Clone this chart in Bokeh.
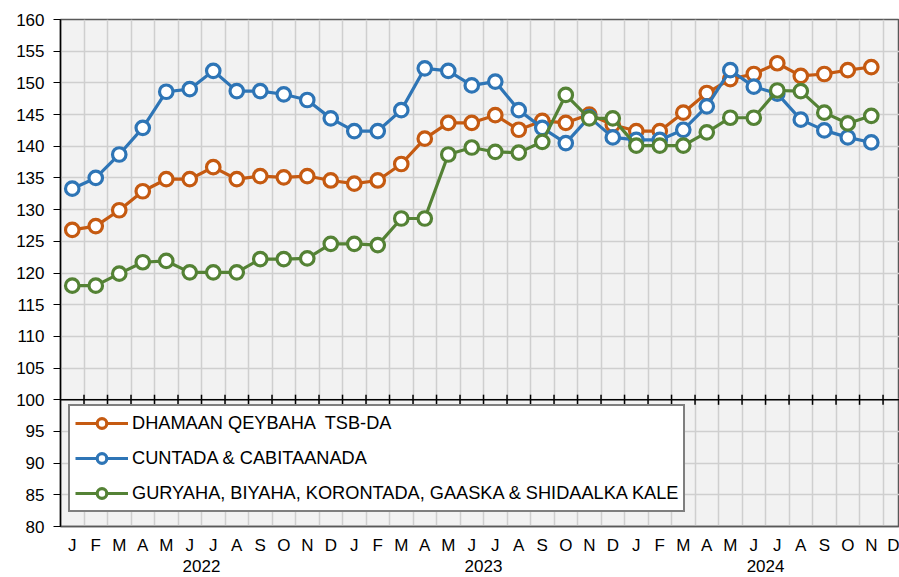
from bokeh.plotting import figure
from bokeh.models import (Range1d, FixedTicker, LinearAxis, Span, Legend, LegendItem,
                          ColumnDataSource, Grid)
from bokeh.embed import file_html
from bokeh.resources import INLINE

months = ["J", "F", "M", "A", "M", "J", "J", "A", "S", "O", "N", "D"] * 3
years = ["2022", "2023", "2024"]

all_items = [126.8, 127.4, 129.9, 132.9, 134.8, 134.8, 136.7, 134.8, 135.3, 135.1,
             135.3, 134.6, 134.1, 134.6, 137.2, 141.2, 143.7, 143.7, 144.9, 142.6,
             144.0, 143.7, 145.0, 143.4, 142.4, 142.4, 145.3, 148.4, 150.6, 151.4,
             153.1, 151.1, 151.4, 152.0, 152.5]
food = [133.3, 135.0, 138.7, 142.9, 148.6, 149.0, 151.9, 148.7, 148.7, 148.2,
        147.3, 144.4, 142.4, 142.4, 145.7, 152.3, 151.9, 149.6, 150.2, 145.7,
        142.9, 140.5, 144.6, 141.4, 141.0, 141.0, 142.6, 146.3, 152.0, 149.4,
        148.3, 144.2, 142.5, 141.4, 140.6]
housing = [118.0, 118.0, 119.9, 121.7, 121.9, 120.1, 120.1, 120.1, 122.2, 122.2,
           122.3, 124.6, 124.6, 124.4, 128.6, 128.6, 138.7, 139.8, 139.1, 139.0,
           140.7, 148.1, 144.4, 144.4, 140.1, 140.1, 140.1, 142.2, 144.5, 144.5,
           148.8, 148.7, 145.3, 143.6, 144.8]

series_names = ["DHAMAAN QEYBAHA  TSB-DA", "CUNTADA & CABITAANADA",
                "GURYAHA, BIYAHA, KORONTADA, GAASKA & SHIDAALKA KALE"]
colors = ["#C55A11", "#2E75B6", "#548235"]

FONT = "Liberation Sans"

p = figure(width=899, height=577, output_backend="svg", toolbar_location=None,
           x_range=Range1d(-0.5, 35.2), y_range=Range1d(80, 160),
           min_border_left=60, min_border_right=0, min_border_top=19,
           min_border_bottom=51, x_axis_type=None)

p.background_fill_color = "#F2F2F2"
p.border_fill_color = "white"
p.outline_line_color = "#595959"
p.outline_line_width = 1.5

# y axis
p.yaxis.ticker = FixedTicker(ticks=list(range(80, 161, 5)))
p.yaxis.major_label_text_font = FONT
p.yaxis.major_label_text_font_size = "17px"
p.yaxis.major_label_text_color = "black"
p.yaxis.axis_line_color = "black"
p.yaxis.axis_line_width = 1.5
p.yaxis.major_tick_line_color = "black"
p.yaxis.major_tick_out = 7
p.yaxis.major_tick_in = 0
p.yaxis.minor_tick_line_color = None
p.yaxis.major_label_standoff = 9

# grids
p.ygrid.ticker = FixedTicker(ticks=list(range(80, 161, 5)))
p.ygrid.grid_line_color = "#CFCFCF"
p.ygrid.grid_line_width = 1.5
n = len(months)
bounds = [i + 0.5 for i in range(-1, n)]
p.add_layout(Grid(dimension=0, ticker=FixedTicker(ticks=bounds),
                  grid_line_color="#CFCFCF", grid_line_width=1.5))

# month axis
xa = LinearAxis(ticker=FixedTicker(ticks=list(range(n))),
                major_label_overrides={i: m for i, m in enumerate(months)})
xa.axis_line_color = "#595959"
xa.axis_line_width = 1.5
xa.major_tick_line_color = None
xa.minor_tick_line_color = None
xa.major_tick_out = 0
xa.major_tick_in = 0
xa.major_label_standoff = 9
xa.major_label_text_font = FONT
xa.major_label_text_font_size = "17px"
xa.major_label_text_color = "black"
p.add_layout(xa, "below")

# year axis
ya_ticks = [5.5, 17.5, 29.5]
yr = LinearAxis(ticker=FixedTicker(ticks=ya_ticks),
                major_label_overrides={t: y for t, y in zip(ya_ticks, years)})
yr.axis_line_color = None
yr.major_tick_line_color = None
yr.minor_tick_line_color = None
yr.major_tick_out = 0
yr.major_tick_in = 0
yr.major_label_standoff = 2
yr.major_label_text_font = FONT
yr.major_label_text_font_size = "17px"
yr.major_label_text_color = "black"
p.add_layout(yr, "below")

# axis crossing line at 100 with ticks
p.add_layout(Span(location=100, dimension="width", line_color="black", line_width=1.5))
tsrc = ColumnDataSource(dict(x=bounds[1:], y0=[99.2] * n, y1=[100.8] * n))
p.segment(x0="x", y0="y0", x1="x", y1="y1", source=tsrc, line_color="black", line_width=1.5)

items = []
for name, vals, c in zip(series_names, [all_items, food, housing], colors):
    src = ColumnDataSource(dict(x=list(range(len(vals))), y=vals))
    l = p.line("x", "y", source=src, line_color=c, line_width=3.2)
    s = p.scatter("x", "y", source=src, size=13.5, fill_color="white", line_color=c,
                  line_width=3.2)
    items.append(LegendItem(label=name, renderers=[l, s]))

legend = Legend(items=items, location=(8, 14))
legend.background_fill_color = "white"
legend.background_fill_alpha = 1
legend.border_line_color = "black"
legend.border_line_width = 2.5
legend.padding = 5
legend.spacing = 11
legend.glyph_height = 24
legend.label_height = 16
legend.glyph_width = 53
legend.label_standoff = 4
legend.label_text_font = FONT
legend.label_text_font_size = "18.2px"
legend.label_text_color = "black"
legend.margin = 0
p.add_layout(legend, "center")

open("out.html", "w").write(file_html(p, INLINE))
